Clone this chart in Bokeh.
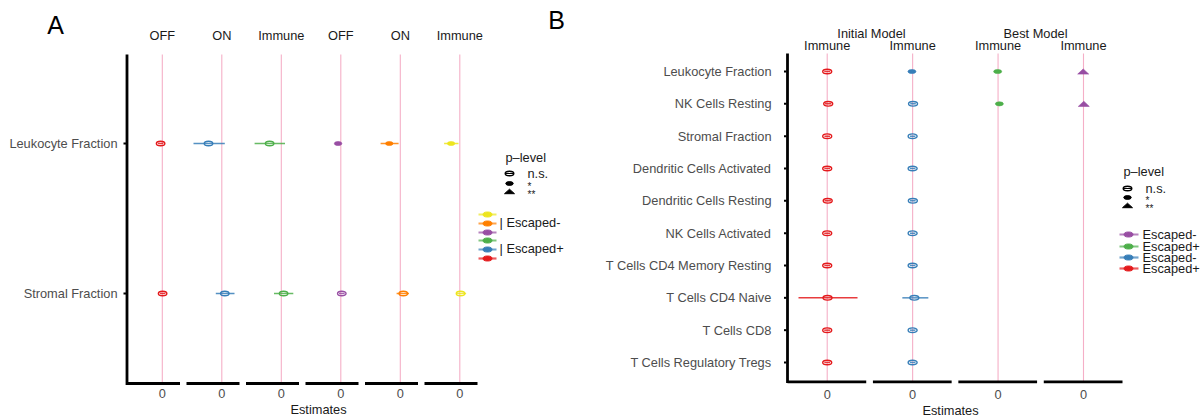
from bokeh.plotting import figure
from bokeh.layouts import row
from bokeh.models import Range1d
from bokeh.core.properties import value
from bokeh.embed import file_html
from bokeh.resources import INLINE

FONT = "Liberation Sans"
FS = "12.8px"
PINK = "#F5AFC7"
GREY = "#4D4D4D"
INK = "#1A1A1A"
PAGE_H = 417

# ---------------- Panel A: data ----------------
a_terms = ["Leukocyte Fraction", "Stromal Fraction"]          # top to bottom
a_strips = ["OFF", "ON", "Immune", "OFF", "ON", "Immune"]
a_groups = ["Escaped+", "Escaped+", "Escaped+", "Escaped-", "Escaped-", "Escaped-"]
a_colors = ["#E41A1C", "#377EB8", "#4DAF4A", "#984EA3", "#FF7F00", "#EDE51F"]
x_tick_label = "0"

a_leuk_est = [-0.0017, -0.0133, -0.0117, -0.0027, -0.0110, -0.0087]
a_leuk_lo = [-0.0045, -0.0283, -0.0267, -0.0042, -0.0197, -0.0157]
a_leuk_hi = [0.0011, 0.0030, 0.0037, -0.0012, -0.0017, -0.0013]
a_leuk_sig = ["n.s.", "n.s.", "n.s.", "*", "*", "*"]

a_strom_est = [0.0003, 0.0030, 0.0023, 0.0010, 0.0030, 0.0007]
a_strom_lo = [-0.0025, -0.0060, -0.0073, -0.0018, -0.0037, -0.0037]
a_strom_hi = [0.0031, 0.0127, 0.0120, 0.0038, 0.0087, 0.0063]
a_strom_sig = ["n.s.", "n.s.", "n.s.", "n.s.", "n.s.", "n.s."]

# ---------------- Panel B: data ----------------
b_terms = ["Leukocyte Fraction", "NK Cells Resting", "Stromal Fraction",
           "Dendritic Cells Activated", "Dendritic Cells Resting", "NK Cells Activated",
           "T Cells CD4 Memory Resting", "T Cells CD4 Naive", "T Cells CD8",
           "T Cells Regulatory Tregs"]                       # top to bottom
b_models = ["Initial Model", "Best Model"]
b_strips = ["Immune", "Immune", "Immune", "Immune"]
b_groups = ["Escaped+", "Escaped-", "Escaped+", "Escaped-"]
b_colors = ["#E41A1C", "#377EB8", "#4DAF4A", "#984EA3"]

b_init_plus_est = [0.0000, 0.0010, 0.0000, 0.0000, 0.0005, 0.0000, 0.0000, 0.0003, 0.0000, 0.0000]
b_init_plus_lo = [-0.0030, -0.0022, -0.0028, -0.0029, -0.0027, -0.0030, -0.0029, -0.0287, -0.0030, -0.0029]
b_init_plus_hi = [0.0030, 0.0041, 0.0028, 0.0029, 0.0037, 0.0030, 0.0029, 0.0303, 0.0030, 0.0029]
b_init_plus_sig = ["n.s."] * 10

b_init_minus_est = [-0.0007, 0.0004, 0.0000, 0.0000, 0.0002, 0.0000, 0.0000, 0.0017, 0.0000, 0.0000]
b_init_minus_lo = [-0.0025, -0.0024, -0.0027, -0.0028, -0.0026, -0.0027, -0.0028, -0.0103, -0.0027, -0.0028]
b_init_minus_hi = [0.0011, 0.0032, 0.0027, 0.0028, 0.0030, 0.0027, 0.0028, 0.0157, 0.0027, 0.0028]
b_init_minus_sig = ["*", "n.s.", "n.s.", "n.s.", "n.s.", "n.s.", "n.s.", "n.s.", "n.s.", "n.s."]

b_best_plus_est = [-0.0004, 0.0013] + [None] * 8
b_best_plus_lo = [-0.0020, -0.0003] + [None] * 8
b_best_plus_hi = [0.0012, 0.0029] + [None] * 8
b_best_plus_sig = ["*", "*"] + [None] * 8

b_best_minus_est = [-0.0003, 0.0003] + [None] * 8
b_best_minus_lo = [-0.0015, -0.0009] + [None] * 8
b_best_minus_hi = [0.0009, 0.0015] + [None] * 8
b_best_minus_sig = ["**", "**"] + [None] * 8


def up(py):
    """Page pixel row (from the top) -> 'py' range value (from the bottom)."""
    if isinstance(py, (list, tuple)):
        return [PAGE_H - v for v in py]
    return PAGE_H - py


def no_align(p):
    try:
        p.frame_align = False
    except Exception:
        pass


def new_panel(width, x_range, y_range, px0, px1):
    # the plotting frame fills the whole figure; "px"/"py" address page pixels
    p = figure(width=width, height=PAGE_H, x_range=x_range, y_range=y_range,
               min_border=0, x_axis_type=None, y_axis_type=None, title=None,
               output_backend="svg", toolbar_location=None)
    no_align(p)
    p.extra_x_ranges = {"px": Range1d(px0, px1)}
    p.extra_y_ranges = {"py": Range1d(0, PAGE_H)}
    p.outline_line_color = None
    p.background_fill_color = "white"
    p.border_fill_color = "white"
    return p


def put_text(p, xs, ys, texts, xr="px", yr="py", color=INK, size=FS,
             align="center", baseline="middle"):
    p.text(x=xs, y=ys, text=texts, x_range_name=xr, y_range_name=yr,
           text_font=value(FONT), text_font_size=value(size), text_color=color,
           text_align=align, text_baseline=baseline)


def draw_axes(p, frame_left, top, bottom, ypos, terms, label_right, offsets, lims,
              zero_y, bottom_line_y):
    n = len(ypos)
    # left axis line and small ticks
    p.segment(x0=[frame_left], y0=[up(top)], x1=[frame_left], y1=[up(bottom)],
              line_color="black", line_width=2.8, x_range_name="px", y_range_name="py")
    p.segment(x0=[frame_left - 3.5] * n, y0=ypos, x1=[frame_left - 1] * n, y1=ypos,
              line_color="black", line_width=2, x_range_name="px")
    put_text(p, [label_right] * n, ypos, terms, xr="px", yr="default",
             color=GREY, align="right")
    # separate bottom axis line under every facet, tick label "0" at each zero
    m = len(offsets)
    p.segment(x0=[o + lims[0] for o in offsets], y0=[up(bottom_line_y)] * m,
              x1=[o + lims[1] for o in offsets], y1=[up(bottom_line_y)] * m,
              line_color="black", line_width=2.8, y_range_name="py")
    put_text(p, offsets, [up(zero_y)] * m, [x_tick_label] * m, xr="default",
             color=GREY)


def draw_zero_lines(p, offsets, top, bottom):
    m = len(offsets)
    p.segment(x0=offsets, y0=[up(top)] * m, x1=offsets, y1=[up(bottom)] * m,
              line_color=PINK, line_width=1.1, y_range_name="py")


def draw_points(p, offsets, ypos, series, ux, uy, ell_w, ell_h):
    """series: list of (est, lo, hi, sig, color) per facet, values per row."""
    seg = dict(x0=[], x1=[], y=[], c=[])
    opn = dict(x=[], y=[], c=[])
    fil = dict(x=[], y=[], c=[])
    tri = dict(xs=[], ys=[], c=[])
    for off, (est, lo, hi, sig, col) in zip(offsets, series):
        for r, e in enumerate(est):
            if e is None:
                continue
            y = ypos[r]
            seg["x0"].append(off + lo[r]); seg["x1"].append(off + hi[r])
            seg["y"].append(y); seg["c"].append(col)
            if sig[r] == "n.s.":
                opn["x"].append(off + e); opn["y"].append(y); opn["c"].append(col)
            elif sig[r] == "*":
                fil["x"].append(off + e); fil["y"].append(y); fil["c"].append(col)
            else:
                x = off + e
                tri["xs"].append([x - 5.5 * ux, x + 5.5 * ux, x])
                tri["ys"].append([y - 2.6 * uy, y - 2.6 * uy, y + 2.6 * uy])
                tri["c"].append(col)
    p.segment(x0=seg["x0"], y0=seg["y"], x1=seg["x1"], y1=seg["y"],
              line_color=seg["c"], line_width=1.5, line_alpha=0.85)
    if opn["x"]:
        p.ellipse(x=opn["x"], y=opn["y"], width=ell_w, height=ell_h,
                  width_units="screen", height_units="screen",
                  fill_color=None, line_color=opn["c"], line_width=1.4)
    if fil["x"]:
        p.ellipse(x=fil["x"], y=fil["y"], width=ell_w - 1, height=ell_h - 0.5,
                  width_units="screen", height_units="screen",
                  fill_color=fil["c"], line_color=fil["c"], line_width=0.6)
    if tri["xs"]:
        p.patches(xs=tri["xs"], ys=tri["ys"], fill_color=tri["c"],
                  line_color=tri["c"], line_width=0.6)


def draw_plevel_key(p, x_sym, x_txt, y_title, y_ns, y_one, y_two):
    # "px"/"py" ranges are one unit per pixel, so key sizes are given in pixels
    put_text(p, [x_sym - 4], [up(y_title)], ["p\u2013level"], align="left")
    p.ellipse(x=[x_sym], y=[up(y_ns)], width=8.5, height=4.5,
              fill_color=None, line_color="black", line_width=1.5,
              x_range_name="px", y_range_name="py")
    p.segment(x0=[x_sym - 4], y0=[up(y_ns)], x1=[x_sym + 4], y1=[up(y_ns)],
              line_color="black", line_width=1, x_range_name="px", y_range_name="py")
    p.ellipse(x=[x_sym], y=[up(y_one)], width=7.5, height=3.8,
              fill_color="black", line_color="black",
              x_range_name="px", y_range_name="py")
    p.patches(xs=[[x_sym - 5, x_sym + 5, x_sym]],
              ys=[[up(y_two + 2.2), up(y_two + 2.2), up(y_two - 2.3)]],
              fill_color="black", line_color="black", x_range_name="px", y_range_name="py")
    put_text(p, [x_txt], [up(y_ns)], ["n.s."], align="left")
    put_text(p, [x_txt], [up(y_one + 3)], ["*"], align="left", size="10px")
    put_text(p, [x_txt], [up(y_two + 3)], ["**"], align="left", size="10px")


def draw_color_keys(p, x0, x1, xdot, ys, cols):
    n = len(ys)
    p.segment(x0=[x0] * n, y0=up(ys), x1=[x1] * n, y1=up(ys), line_color=cols,
              line_width=2.2, line_alpha=0.7, x_range_name="px", y_range_name="py")
    p.ellipse(x=[xdot] * n, y=up(ys), width=9, height=5,
              fill_color=cols, line_color=cols,
              x_range_name="px", y_range_name="py")


# ================= Panel A (page x 0..570, legend included) =================
A_STEP = 0.0595
A_LIM = (-0.0353, 0.0177)
a_off = [i * A_STEP for i in range(len(a_strips))]
XA0, XA1 = A_LIM[0], a_off[-1] + A_LIM[1]
FA_L, FA_R, FA_T, FA_B = 126.5, 477, 53, 385
a_ypos = [len(a_terms) - i for i in range(len(a_terms))]
YA1 = a_ypos[0] + 90 / 150
YA0 = a_ypos[-1] - 92 / 150
uxA = (XA1 - XA0) / (FA_R - FA_L)
uyA = (YA1 - YA0) / (FA_B - FA_T)
WA = 570

pA = new_panel(WA, Range1d(XA0 - FA_L * uxA, XA0 + (WA - FA_L) * uxA),
               Range1d(YA0 - (PAGE_H - FA_B) * uyA, YA1 + FA_T * uyA), 0, WA)
draw_zero_lines(pA, a_off, 54, 383)
draw_axes(pA, FA_L, 54, 384.5, a_ypos, a_terms, 117, a_off, A_LIM, 393, 383)

a_series = []
for k in range(len(a_strips)):
    a_series.append(([a_leuk_est[k], a_strom_est[k]],
                     [a_leuk_lo[k], a_strom_lo[k]],
                     [a_leuk_hi[k], a_strom_hi[k]],
                     [a_leuk_sig[k], a_strom_sig[k]],
                     a_colors[k]))
draw_points(pA, a_off, a_ypos, a_series, uxA, uyA, 8.5, 4.6)

put_text(pA, a_off, [up(35)] * len(a_off), a_strips, xr="default")
put_text(pA, [318], [up(409)], ["Estimates"])
put_text(pA, [55], [up(24)], ["A"], size="25px", color="black")
put_text(pA, [556], [up(19)], ["B"], size="25px", color="black")

# legend of panel A
draw_plevel_key(pA, 509, 527, 157, 173, 183, 191)
keyA_y = [214, 223, 232, 240, 249, 258]
keyA_col = [a_colors[5], a_colors[4], a_colors[3], a_colors[2], a_colors[1], a_colors[0]]
draw_color_keys(pA, 478, 496, 487, keyA_y, keyA_col)
put_text(pA, [499, 499], [up(222), up(248)], ["| " + a_groups[3], "| " + a_groups[0]],
         align="left")

# ================= Panel B (page x 570..1202, legend included) =================
B_STEP = 0.0854
B_LIM = (-0.0397, 0.0390)
b_off = [i * B_STEP for i in range(len(b_strips))]
XB0, XB1 = B_LIM[0], b_off[-1] + B_LIM[1]
FB_L, FB_R, FB_T, FB_B = 787, 1122, 52, 383
B_LEFT, B_RIGHT = 570, 1202
b_ypos = [len(b_terms) - i for i in range(len(b_terms))]
B_ROW = (362 - 71) / (len(b_terms) - 1)
YB1 = b_ypos[0] + (71 - FB_T) / B_ROW
YB0 = b_ypos[-1] - (FB_B - 362) / B_ROW
uxB = (XB1 - XB0) / (FB_R - FB_L)
uyB = (YB1 - YB0) / (FB_B - FB_T)

pB = new_panel(B_RIGHT - B_LEFT,
               Range1d(XB0 - (FB_L - B_LEFT) * uxB, XB0 + (B_RIGHT - FB_L) * uxB),
               Range1d(YB0 - (PAGE_H - FB_B) * uyB, YB1 + FB_T * uyB), B_LEFT, B_RIGHT)
draw_zero_lines(pB, b_off, 53, 381)
draw_axes(pB, FB_L, 53, 382.5, b_ypos, b_terms, 771, b_off, B_LIM, 394, 381.3)

b_series = [
    (b_init_plus_est, b_init_plus_lo, b_init_plus_hi, b_init_plus_sig, b_colors[0]),
    (b_init_minus_est, b_init_minus_lo, b_init_minus_hi, b_init_minus_sig, b_colors[1]),
    (b_best_plus_est, b_best_plus_lo, b_best_plus_hi, b_best_plus_sig, b_colors[2]),
    (b_best_minus_est, b_best_minus_lo, b_best_minus_hi, b_best_minus_sig, b_colors[3]),
]
draw_points(pB, b_off, b_ypos, b_series, uxB, uyB, 9, 4.6)

put_text(pB, b_off, [up(45)] * len(b_off), b_strips, xr="default")
put_text(pB, [871, 1035], [up(33), up(33)], b_models)
put_text(pB, [950], [up(410)], ["Estimates"])

# legend of panel B
draw_plevel_key(pB, 1127, 1145, 171, 188, 197, 205)
keyB_y = [234, 246, 257, 268]
keyB_col = [b_colors[3], b_colors[2], b_colors[1], b_colors[0]]
keyB_txt = [b_groups[3], b_groups[2], b_groups[1], b_groups[0]]
draw_color_keys(pB, 1119, 1138, 1128, keyB_y, keyB_col)
put_text(pB, [1142] * 4, up(keyB_y), keyB_txt, align="left")

layout = row(pA, pB)
open("out.html", "w").write(file_html(layout, INLINE))
